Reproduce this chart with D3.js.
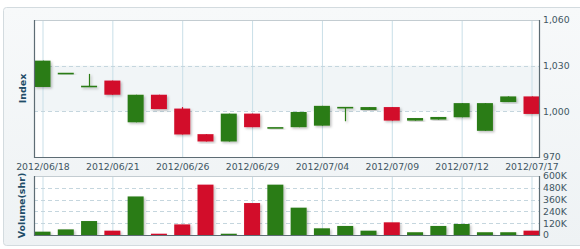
<!DOCTYPE html>
<html>
<head>
<meta charset="utf-8">
<script src="https://cdn.jsdelivr.net/npm/d3@7"></script>
<style>
  html, body { margin: 0; padding: 0; background: #fff; }
  svg { display: block; font-family: "DejaVu Sans", Verdana, sans-serif; }
</style>
</head>
<body>
<div id="chart"></div>
<script>
const dates = ["2012/06/18","2012/06/19","2012/06/20","2012/06/21","2012/06/22","2012/06/25",
  "2012/06/26","2012/06/27","2012/06/28","2012/06/29","2012/07/02","2012/07/03","2012/07/04",
  "2012/07/05","2012/07/06","2012/07/09","2012/07/10","2012/07/11","2012/07/12","2012/07/13",
  "2012/07/16","2012/07/17"];
const openVals  = [1016.0,1024.8,1016.3,1020.2,992.8,1010.9,1001.8,985.0,980.2,998.5,989.1,989.6,990.6,1002.4,1000.9,1002.8,993.9,994.6,996.1,987.2,1006.1,1009.8];
const highVals  = [1033.3,1024.8,1024.6,1020.2,1010.9,1010.9,1002.8,985.0,998.5,998.5,989.1,999.6,1003.6,1002.4,1002.8,1002.8,995.6,996.3,1005.4,1005.4,1009.8,1009.8];
const lowVals   = [1016.0,1024.8,1016.3,1010.9,992.8,1001.5,984.8,980.2,980.2,989.6,989.1,989.6,990.6,993.5,1000.9,993.9,993.9,994.6,996.1,987.2,1006.1,998.3];
const closeVals = [1033.3,1024.8,1016.3,1010.9,1010.9,1001.5,984.8,980.2,998.5,989.6,989.1,999.6,1003.6,1002.4,1002.8,993.9,995.6,996.3,1005.4,1005.4,1009.8,998.3];
const volumes = [34000,57000,142000,44000,392000,13000,108000,512000,13000,325000,512000,278000,
  68000,92000,44000,129000,28000,92000,112000,28000,28000,44000];
const dateTicks = ["2012/06/18","2012/06/21","2012/06/26","2012/06/29","2012/07/04","2012/07/09","2012/07/12","2012/07/17"];
const priceTicks = [970, 1000, 1030, 1060];
const volumeTicks = [0, 120000, 240000, 360000, 480000, 600000];

const width = 580, height = 249;
const left = 34, right = 539;
const top1 = 20, bottom1 = 157;
const top2 = 176, bottom2 = 235;
const green = "#2b7b16", red = "#d2102b";
const textColor = "#3f5663";

const data = dates.map((d, i) => ({
  date: d, open: openVals[i], high: highVals[i], low: lowVals[i], close: closeVals[i], volume: volumes[i]
}));

const svg = d3.select("#chart").append("svg")
  .attr("width", width).attr("height", height);

const defs = svg.append("defs");
const grad = defs.append("linearGradient").attr("id", "panelBg").attr("x1", 0).attr("y1", 0).attr("x2", 0).attr("y2", 1);
grad.append("stop").attr("offset", "0%").attr("stop-color", "#f7f9fa");
grad.append("stop").attr("offset", "100%").attr("stop-color", "#eef2f4");
const shadow = defs.append("filter").attr("id", "shadow").attr("x", "-20%").attr("y", "-20%").attr("width", "150%").attr("height", "150%");
shadow.append("feDropShadow").attr("dx", 1.5).attr("dy", 1.5).attr("stdDeviation", 1)
  .attr("flood-color", "#000").attr("flood-opacity", 0.25);
defs.append("clipPath").attr("id", "clipTop").append("rect")
  .attr("x", left).attr("y", top1).attr("width", right - left).attr("height", bottom1 - top1);
defs.append("clipPath").attr("id", "clipBot").append("rect")
  .attr("x", left).attr("y", top2).attr("width", right - left).attr("height", bottom2 - top2);

// outer panel
svg.append("rect").attr("x", 3.5).attr("y", 7.5).attr("width", 590).attr("height", 238)
  .attr("rx", 3).attr("fill", "url(#panelBg)").attr("stroke", "#d3dbdf");

const x = d3.scalePoint().domain(dates).range([42.5, 531.5]);
const y = d3.scaleLinear().domain([970, 1060]).range([bottom1, top1]);
const yv = d3.scaleLinear().domain([0, 600000]).range([bottom2, top2]);
const candleW = 16;

function drawPanel(top, bottom, ticks, scale, bands) {
  svg.append("rect").attr("x", left).attr("y", top).attr("width", right - left).attr("height", bottom - top)
    .attr("fill", "#fff");
  bands.forEach(([a, b]) => {
    svg.append("rect").attr("x", left).attr("y", scale(b)).attr("width", right - left)
      .attr("height", scale(a) - scale(b)).attr("fill", "#f1f5f7");
  });
  svg.append("g").selectAll("line").data(dateTicks).join("line")
    .attr("x1", d => x(d) + 0.5).attr("x2", d => x(d) + 0.5)
    .attr("y1", top).attr("y2", bottom)
    .attr("stroke", "#c9dfe8").attr("stroke-width", 1);
  svg.append("g").selectAll("line").data(ticks.slice(1, -1)).join("line")
    .attr("x1", left).attr("x2", right)
    .attr("y1", d => Math.round(scale(d)) + 0.5).attr("y2", d => Math.round(scale(d)) + 0.5)
    .attr("stroke", "#c5d6de").attr("stroke-dasharray", "4,3");
}

drawPanel(top1, bottom1, priceTicks, y, [[1000, 1030]]);
drawPanel(top2, bottom2, volumeTicks, yv, []);

// candles
const candles = svg.append("g").attr("clip-path", "url(#clipTop)");
const cg = candles.selectAll("g").data(data).join("g")
  .attr("filter", "url(#shadow)");
cg.append("line")
  .attr("x1", d => Math.round(x(d.date)) + 0.5).attr("x2", d => Math.round(x(d.date)) + 0.5)
  .attr("y1", d => y(d.high)).attr("y2", d => y(d.low))
  .attr("stroke", d => d.close >= d.open ? green : red).attr("stroke-width", 1.2);
cg.append("rect")
  .attr("x", d => x(d.date) - candleW / 2)
  .attr("width", candleW)
  .attr("y", d => y(Math.max(d.open, d.close)) - (d.open === d.close ? 0.8 : 0))
  .attr("height", d => Math.max(1.6, Math.abs(y(d.open) - y(d.close))))
  .attr("fill", d => d.close >= d.open ? green : red);

// volume bars
svg.append("g").attr("clip-path", "url(#clipBot)")
  .selectAll("rect").data(data).join("rect")
  .attr("filter", "url(#shadow)")
  .attr("x", d => x(d.date) - candleW / 2)
  .attr("width", candleW)
  .attr("y", d => yv(d.volume))
  .attr("height", d => yv(0) - yv(d.volume))
  .attr("fill", d => d.close >= d.open ? green : red);

// plot borders
[[top1, bottom1], [top2, bottom2]].forEach(([t, b]) => {
  svg.append("line").attr("x1", left).attr("x2", right).attr("y1", t + 0.5).attr("y2", t + 0.5)
    .attr("stroke", "#c3ccd1");
  svg.append("path")
    .attr("d", `M${left + 0.5},${t}V${b + 0.5}H${right + 0.5}V${t}`)
    .attr("fill", "none").attr("stroke", "#5d6c74").attr("stroke-width", 1.2);
});

// axes
const styleAxis = g => {
  g.select(".domain").remove();
  g.selectAll(".tick line").remove();
  g.selectAll("text").attr("fill", textColor).style("font-size", "9.3px")
    .style("font-family", "'DejaVu Sans', Verdana, sans-serif");
};

svg.append("g").attr("transform", `translate(0,${bottom1 + 1})`)
  .call(d3.axisBottom(x).tickValues(dateTicks).tickSize(0).tickPadding(5))
  .call(styleAxis);

svg.append("g").attr("transform", `translate(${right},0)`)
  .call(d3.axisRight(y).tickValues(priceTicks).tickFormat(d3.format(",")).tickSize(0).tickPadding(4))
  .call(styleAxis)
  .call(g => g.selectAll("text").attr("text-anchor", "start"));

svg.append("g").attr("transform", `translate(${right},0)`)
  .call(d3.axisRight(yv).tickValues(volumeTicks)
    .tickFormat(d => d === 0 ? "0" : d / 1000 + "K").tickSize(0).tickPadding(4))
  .call(styleAxis);

// axis titles
svg.append("text")
  .attr("transform", `translate(26,${(top1 + bottom1) / 2}) rotate(-90)`)
  .attr("text-anchor", "middle")
  .attr("fill", "#1f4d68").style("font-size", "9.5px").style("font-weight", "bold")
  .text("Index");
svg.append("text")
  .attr("transform", `translate(25,${(top2 + bottom2) / 2}) rotate(-90)`)
  .attr("text-anchor", "middle")
  .attr("fill", "#1f4d68").style("font-size", "9.5px").style("font-weight", "bold")
  .text("Volume(shr)");
</script>
</body>
</html>
